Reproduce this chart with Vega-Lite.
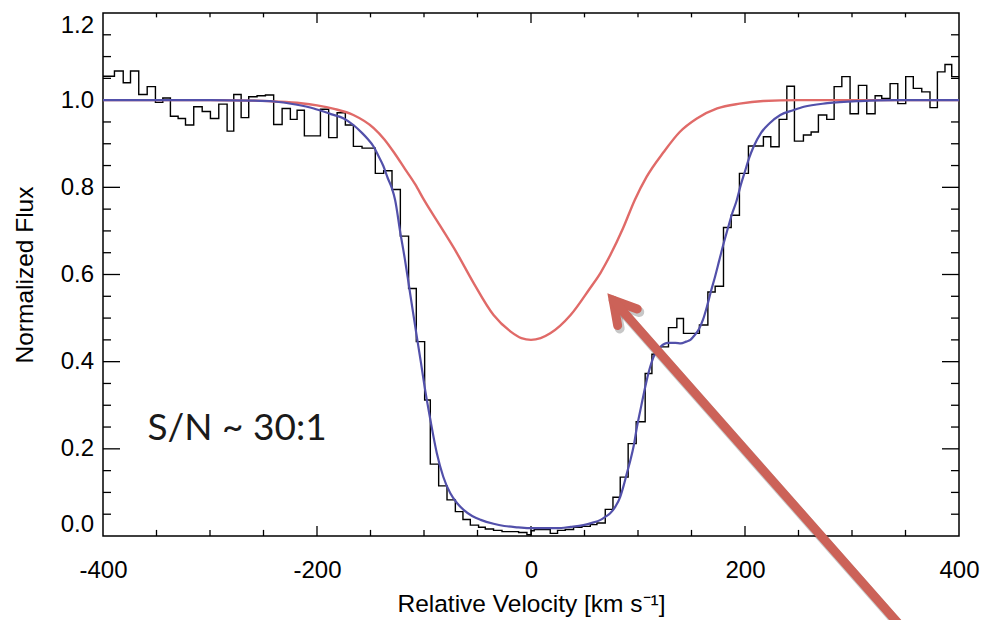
{
  "$schema": "https://vega.github.io/schema/vega-lite/v6.json",
  "width": 856,
  "height": 523,
  "autosize": {"type": "none"},
  "padding": {"left": 103, "top": 13, "right": 22, "bottom": 84},
  "background": "#ffffff",
  "datasets": {
    "hist": [
      {"v": -400.0, "f": 1.055}, {"v": -389.3, "f": 1.067}, {"v": -381.1, "f": 1.040}, {"v": -374.3, "f": 1.067},
      {"v": -366.6, "f": 1.013}, {"v": -358.7, "f": 1.031}, {"v": -351.0, "f": 0.995}, {"v": -344.1, "f": 1.005},
      {"v": -337.0, "f": 0.963}, {"v": -329.8, "f": 0.958}, {"v": -322.9, "f": 0.943}, {"v": -315.2, "f": 0.985},
      {"v": -307.3, "f": 0.974}, {"v": -299.6, "f": 0.958}, {"v": -291.8, "f": 0.991}, {"v": -284.0, "f": 0.929},
      {"v": -277.8, "f": 1.013}, {"v": -270.9, "f": 0.960}, {"v": -263.8, "f": 1.008}, {"v": -256.0, "f": 1.010},
      {"v": -248.2, "f": 1.012}, {"v": -240.5, "f": 0.944}, {"v": -232.6, "f": 0.981}, {"v": -224.9, "f": 0.956},
      {"v": -218.6, "f": 0.977}, {"v": -211.8, "f": 0.918}, {"v": -204.3, "f": 0.918}, {"v": -196.8, "f": 0.979},
      {"v": -189.1, "f": 0.914}, {"v": -181.2, "f": 0.971}, {"v": -173.5, "f": 0.943}, {"v": -166.0, "f": 0.894},
      {"v": -157.9, "f": 0.890}, {"v": -151.5, "f": 0.890}, {"v": -145.5, "f": 0.832}, {"v": -137.7, "f": 0.838},
      {"v": -129.9, "f": 0.795}, {"v": -122.1, "f": 0.688}, {"v": -114.4, "f": 0.568}, {"v": -107.2, "f": 0.446},
      {"v": -99.4, "f": 0.312}, {"v": -94.1, "f": 0.165}, {"v": -86.3, "f": 0.115}, {"v": -78.5, "f": 0.083},
      {"v": -70.7, "f": 0.056}, {"v": -63.6, "f": 0.038}, {"v": -56.7, "f": 0.025}, {"v": -49.0, "f": 0.020},
      {"v": -42.7, "f": 0.016}, {"v": -35.0, "f": 0.013}, {"v": -27.1, "f": 0.010}, {"v": -19.4, "f": 0.010},
      {"v": -11.6, "f": 0.008}, {"v": -3.8, "f": 0.003}, {"v": 0.2, "f": 0.012}, {"v": 3.0, "f": 0.015},
      {"v": 10.5, "f": 0.015}, {"v": 18.0, "f": 0.006}, {"v": 24.8, "f": 0.013}, {"v": 32.0, "f": 0.015},
      {"v": 39.8, "f": 0.020}, {"v": 47.6, "f": 0.022}, {"v": 55.4, "f": 0.026}, {"v": 61.6, "f": 0.030},
      {"v": 69.4, "f": 0.061}, {"v": 76.6, "f": 0.089}, {"v": 83.4, "f": 0.135}, {"v": 90.8, "f": 0.212},
      {"v": 98.3, "f": 0.262}, {"v": 106.7, "f": 0.373}, {"v": 113.0, "f": 0.417}, {"v": 120.7, "f": 0.434},
      {"v": 128.5, "f": 0.478}, {"v": 136.3, "f": 0.499}, {"v": 142.5, "f": 0.465}, {"v": 150.0, "f": 0.465},
      {"v": 157.4, "f": 0.484}, {"v": 165.3, "f": 0.560}, {"v": 172.1, "f": 0.573}, {"v": 179.9, "f": 0.708},
      {"v": 187.1, "f": 0.736}, {"v": 194.8, "f": 0.832}, {"v": 203.2, "f": 0.895}, {"v": 210.4, "f": 0.895},
      {"v": 217.2, "f": 0.916}, {"v": 224.1, "f": 0.893}, {"v": 231.9, "f": 0.956}, {"v": 239.1, "f": 1.032},
      {"v": 246.2, "f": 0.906}, {"v": 254.6, "f": 0.920}, {"v": 261.8, "f": 0.927}, {"v": 268.6, "f": 0.966},
      {"v": 276.4, "f": 0.956}, {"v": 283.3, "f": 1.031}, {"v": 290.5, "f": 1.054}, {"v": 298.2, "f": 0.969},
      {"v": 306.0, "f": 1.034}, {"v": 313.8, "f": 0.969}, {"v": 321.6, "f": 1.010}, {"v": 327.8, "f": 1.004},
      {"v": 335.6, "f": 1.038}, {"v": 342.8, "f": 0.992}, {"v": 350.2, "f": 1.054}, {"v": 357.3, "f": 1.027},
      {"v": 365.2, "f": 1.019}, {"v": 372.9, "f": 0.983}, {"v": 379.8, "f": 1.065}, {"v": 386.9, "f": 1.082},
      {"v": 393.2, "f": 1.054}, {"v": 400.0, "f": 1.054}
    ],
    "red": [
      {"v": -400, "f": 1.0}, {"v": -300, "f": 1.0}, {"v": -260, "f": 0.999}, {"v": -240, "f": 0.997},
      {"v": -215, "f": 0.993}, {"v": -200, "f": 0.988}, {"v": -184, "f": 0.980}, {"v": -166, "f": 0.966},
      {"v": -147, "f": 0.936}, {"v": -137, "f": 0.910}, {"v": -128, "f": 0.880}, {"v": -118, "f": 0.843},
      {"v": -108, "f": 0.806}, {"v": -100, "f": 0.771}, {"v": -85, "f": 0.712}, {"v": -69, "f": 0.648},
      {"v": -54, "f": 0.582}, {"v": -35, "f": 0.507}, {"v": -19, "f": 0.469}, {"v": -9, "f": 0.454},
      {"v": 0, "f": 0.450}, {"v": 9, "f": 0.454}, {"v": 18, "f": 0.465}, {"v": 37, "f": 0.507},
      {"v": 55, "f": 0.568}, {"v": 65, "f": 0.604}, {"v": 74, "f": 0.644}, {"v": 86, "f": 0.706},
      {"v": 97, "f": 0.771}, {"v": 108, "f": 0.824}, {"v": 124, "f": 0.881}, {"v": 139, "f": 0.927},
      {"v": 155, "f": 0.958}, {"v": 174, "f": 0.981}, {"v": 195, "f": 0.992}, {"v": 217, "f": 0.998},
      {"v": 250, "f": 1.0}, {"v": 300, "f": 1.0}, {"v": 400, "f": 1.0}
    ],
    "blue": [
      {"v": -400, "f": 1.0}, {"v": -300, "f": 1.0}, {"v": -260, "f": 0.999}, {"v": -240, "f": 0.997},
      {"v": -220, "f": 0.990}, {"v": -203, "f": 0.981}, {"v": -187, "f": 0.968}, {"v": -175, "f": 0.958},
      {"v": -166, "f": 0.943}, {"v": -158, "f": 0.925}, {"v": -153, "f": 0.912}, {"v": -147, "f": 0.893},
      {"v": -143, "f": 0.874}, {"v": -138, "f": 0.849}, {"v": -134, "f": 0.822}, {"v": -130, "f": 0.798},
      {"v": -127, "f": 0.771}, {"v": -122, "f": 0.694}, {"v": -118, "f": 0.637}, {"v": -114.4, "f": 0.580},
      {"v": -111, "f": 0.525}, {"v": -107.2, "f": 0.465}, {"v": -103, "f": 0.400}, {"v": -99.4, "f": 0.342},
      {"v": -94, "f": 0.266}, {"v": -88, "f": 0.190}, {"v": -82, "f": 0.136}, {"v": -75.4, "f": 0.098},
      {"v": -69, "f": 0.075}, {"v": -63, "f": 0.060}, {"v": -55, "f": 0.046}, {"v": -47, "f": 0.037},
      {"v": -35, "f": 0.028}, {"v": -25, "f": 0.023}, {"v": -12, "f": 0.020}, {"v": 0, "f": 0.018},
      {"v": 12, "f": 0.018}, {"v": 24, "f": 0.018}, {"v": 37, "f": 0.021}, {"v": 49, "f": 0.025},
      {"v": 57, "f": 0.030}, {"v": 65, "f": 0.037}, {"v": 70, "f": 0.045}, {"v": 74, "f": 0.052},
      {"v": 79, "f": 0.068}, {"v": 83.4, "f": 0.090}, {"v": 86.5, "f": 0.115}, {"v": 89.6, "f": 0.144},
      {"v": 93, "f": 0.175}, {"v": 96, "f": 0.207}, {"v": 99, "f": 0.250}, {"v": 103, "f": 0.298},
      {"v": 107, "f": 0.345}, {"v": 111, "f": 0.385}, {"v": 116, "f": 0.419}, {"v": 121, "f": 0.434},
      {"v": 128, "f": 0.443}, {"v": 135, "f": 0.443}, {"v": 140, "f": 0.442}, {"v": 145, "f": 0.446},
      {"v": 149, "f": 0.450}, {"v": 153, "f": 0.461}, {"v": 157, "f": 0.475}, {"v": 161, "f": 0.498},
      {"v": 164.4, "f": 0.526}, {"v": 168, "f": 0.560}, {"v": 172, "f": 0.595}, {"v": 176, "f": 0.633},
      {"v": 180, "f": 0.671}, {"v": 184, "f": 0.706}, {"v": 188, "f": 0.740}, {"v": 192, "f": 0.768},
      {"v": 196, "f": 0.805}, {"v": 200, "f": 0.837}, {"v": 204, "f": 0.868}, {"v": 208, "f": 0.893},
      {"v": 215, "f": 0.925}, {"v": 223, "f": 0.947}, {"v": 233, "f": 0.966}, {"v": 245, "f": 0.977},
      {"v": 255, "f": 0.985}, {"v": 277, "f": 0.993}, {"v": 308, "f": 0.998}, {"v": 340, "f": 1.0},
      {"v": 400, "f": 1.0}
    ],
    "note": [
      {"v": -358.4, "f": 0.22, "label": "S/N ~ 30:1"}
    ],
    "arrow": [
      {"seg": "head", "o": 1, "v": 99.3, "f": 0.521},
      {"seg": "head", "o": 2, "v": 76.8, "f": 0.541},
      {"seg": "head", "o": 3, "v": 81.0, "f": 0.483},
      {"seg": "shaft", "o": 1, "v": 76.8, "f": 0.541},
      {"seg": "shaft", "o": 2, "v": 361.0, "f": -0.25}
    ],
    "xmaj": [{"t": -200}, {"t": 0}, {"t": 200}],
    "xmin": [{"t": -350}, {"t": -300}, {"t": -250}, {"t": -150}, {"t": -100}, {"t": -50}, {"t": 50}, {"t": 100}, {"t": 150}, {"t": 250}, {"t": 300}, {"t": 350}],
    "ymaj": [{"t": 0.2}, {"t": 0.4}, {"t": 0.6}, {"t": 0.8}, {"t": 1.0}],
    "ymin": [{"t": 0.05}, {"t": 0.1}, {"t": 0.15}, {"t": 0.25}, {"t": 0.3}, {"t": 0.35}, {"t": 0.45}, {"t": 0.5}, {"t": 0.55}, {"t": 0.65}, {"t": 0.7}, {"t": 0.75}, {"t": 0.85}, {"t": 0.9}, {"t": 0.95}, {"t": 1.05}, {"t": 1.1}, {"t": 1.15}]
  },
  "resolve": {"axis": {"x": "independent", "y": "independent"}},
  "layer": [
    {
      "data": {"name": "hist"},
      "mark": {"type": "line", "interpolate": "step-after", "color": "#000000", "strokeWidth": 1.4},
      "encoding": {
        "x": {"field": "v", "type": "quantitative", "scale": {"domain": [-400, 400], "nice": false, "zero": false},
          "axis": {"orient": "bottom", "values": [-400, -200, 0, 200, 400], "ticks": false,
            "labelPadding": 22, "labelFlush": false, "labelOverlap": false,
            "labelExpr": "'' + datum.value",
            "title": "Relative Velocity [km s⁻¹]", "titlePadding": 10}},
        "y": {"field": "f", "type": "quantitative", "scale": {"domain": [0, 1.2], "nice": false, "zero": false},
          "axis": {"orient": "left", "values": [0, 0.2, 0.4, 0.6, 0.8, 1.0, 1.2], "ticks": false,
            "labelPadding": 9.5, "labelFlush": true, "labelOverlap": false,
            "labelExpr": "format(datum.value, '.1f')",
            "title": "Normalized Flux", "titlePadding": 23}}
      }
    },
    {
      "data": {"name": "xmaj"},
      "mark": {"type": "rule", "color": "#000000", "strokeWidth": 1.3},
      "encoding": {
        "x": {"field": "t", "type": "quantitative", "scale": {"domain": [-400, 400], "nice": false, "zero": false}, "axis": null},
        "y": {"datum": 0, "type": "quantitative", "scale": {"domain": [0, 1.2], "nice": false, "zero": false}, "axis": null},
        "y2": {"datum": 0.023}
      }
    },
    {
      "data": {"name": "xmin"},
      "mark": {"type": "rule", "color": "#000000", "strokeWidth": 1.3},
      "encoding": {
        "x": {"field": "t", "type": "quantitative", "scale": {"domain": [-400, 400], "nice": false, "zero": false}, "axis": null},
        "y": {"datum": 0, "type": "quantitative", "scale": {"domain": [0, 1.2], "nice": false, "zero": false}, "axis": null},
        "y2": {"datum": 0.014}
      }
    },
    {
      "data": {"name": "xmaj"},
      "mark": {"type": "rule", "color": "#000000", "strokeWidth": 1.3},
      "encoding": {
        "x": {"field": "t", "type": "quantitative", "scale": {"domain": [-400, 400], "nice": false, "zero": false}, "axis": null},
        "y": {"datum": 1.2, "type": "quantitative", "scale": {"domain": [0, 1.2], "nice": false, "zero": false}, "axis": null},
        "y2": {"datum": 1.177}
      }
    },
    {
      "data": {"name": "xmin"},
      "mark": {"type": "rule", "color": "#000000", "strokeWidth": 1.3},
      "encoding": {
        "x": {"field": "t", "type": "quantitative", "scale": {"domain": [-400, 400], "nice": false, "zero": false}, "axis": null},
        "y": {"datum": 1.2, "type": "quantitative", "scale": {"domain": [0, 1.2], "nice": false, "zero": false}, "axis": null},
        "y2": {"datum": 1.19}
      }
    },
    {
      "data": {"name": "ymaj"},
      "mark": {"type": "rule", "color": "#000000", "strokeWidth": 1.3},
      "encoding": {
        "y": {"field": "t", "type": "quantitative", "scale": {"domain": [0, 1.2], "nice": false, "zero": false}, "axis": null},
        "x": {"datum": -400, "type": "quantitative", "scale": {"domain": [-400, 400], "nice": false, "zero": false}, "axis": null},
        "x2": {"datum": -384.1}
      }
    },
    {
      "data": {"name": "ymin"},
      "mark": {"type": "rule", "color": "#000000", "strokeWidth": 1.3},
      "encoding": {
        "y": {"field": "t", "type": "quantitative", "scale": {"domain": [0, 1.2], "nice": false, "zero": false}, "axis": null},
        "x": {"datum": -400, "type": "quantitative", "scale": {"domain": [-400, 400], "nice": false, "zero": false}, "axis": null},
        "x2": {"datum": -392.5}
      }
    },
    {
      "data": {"name": "ymaj"},
      "mark": {"type": "rule", "color": "#000000", "strokeWidth": 1.3},
      "encoding": {
        "y": {"field": "t", "type": "quantitative", "scale": {"domain": [0, 1.2], "nice": false, "zero": false}, "axis": null},
        "x": {"datum": 400, "type": "quantitative", "scale": {"domain": [-400, 400], "nice": false, "zero": false}, "axis": null},
        "x2": {"datum": 384.1}
      }
    },
    {
      "data": {"name": "ymin"},
      "mark": {"type": "rule", "color": "#000000", "strokeWidth": 1.3},
      "encoding": {
        "y": {"field": "t", "type": "quantitative", "scale": {"domain": [0, 1.2], "nice": false, "zero": false}, "axis": null},
        "x": {"datum": 400, "type": "quantitative", "scale": {"domain": [-400, 400], "nice": false, "zero": false}, "axis": null},
        "x2": {"datum": 392.5}
      }
    },
    {
      "data": {"name": "red"},
      "mark": {"type": "line", "interpolate": "monotone", "color": "#e06a68", "strokeWidth": 2.4},
      "encoding": {
        "x": {"field": "v", "type": "quantitative", "scale": {"domain": [-400, 400], "nice": false, "zero": false}, "axis": null},
        "y": {"field": "f", "type": "quantitative", "scale": {"domain": [0, 1.2], "nice": false, "zero": false}, "axis": null}
      }
    },
    {
      "data": {"name": "blue"},
      "mark": {"type": "line", "interpolate": "monotone", "color": "#5250aa", "strokeWidth": 2.2},
      "encoding": {
        "x": {"field": "v", "type": "quantitative", "scale": {"domain": [-400, 400], "nice": false, "zero": false}, "axis": null},
        "y": {"field": "f", "type": "quantitative", "scale": {"domain": [0, 1.2], "nice": false, "zero": false}, "axis": null}
      }
    },
    {
      "data": {"name": "note"},
      "mark": {"type": "text", "font": "Lato", "fontSize": 37, "color": "#1a1a1a", "align": "left", "baseline": "alphabetic"},
      "encoding": {
        "x": {"field": "v", "type": "quantitative", "scale": {"domain": [-400, 400], "nice": false, "zero": false}, "axis": null},
        "y": {"field": "f", "type": "quantitative", "scale": {"domain": [0, 1.2], "nice": false, "zero": false}, "axis": null},
        "text": {"field": "label"}
      }
    },
    {
      "data": {"name": "arrow"},
      "mark": {"type": "line", "color": "#000000", "opacity": 0.22, "strokeWidth": 10, "strokeCap": "round", "strokeJoin": "miter", "xOffset": 2, "yOffset": 3},
      "encoding": {
        "x": {"field": "v", "type": "quantitative", "scale": {"domain": [-400, 400], "nice": false, "zero": false}, "axis": null},
        "y": {"field": "f", "type": "quantitative", "scale": {"domain": [0, 1.2], "nice": false, "zero": false}, "axis": null},
        "detail": {"field": "seg"},
        "order": {"field": "o"}
      }
    },
    {
      "data": {"name": "arrow"},
      "mark": {"type": "line", "color": "#cc6258", "strokeWidth": 9, "strokeCap": "round", "strokeJoin": "miter"},
      "encoding": {
        "x": {"field": "v", "type": "quantitative", "scale": {"domain": [-400, 400], "nice": false, "zero": false}, "axis": null},
        "y": {"field": "f", "type": "quantitative", "scale": {"domain": [0, 1.2], "nice": false, "zero": false}, "axis": null},
        "detail": {"field": "seg"},
        "order": {"field": "o"}
      }
    }
  ],
  "config": {
    "view": {"stroke": "#000000", "strokeWidth": 1.5},
    "axis": {
      "grid": false, "domain": false,
      "labelFont": "Liberation Sans", "labelFontSize": 24, "labelColor": "#000000",
      "titleFont": "Liberation Sans", "titleFontSize": 24.5, "titleFontWeight": "normal", "titleColor": "#000000"
    }
  }
}
